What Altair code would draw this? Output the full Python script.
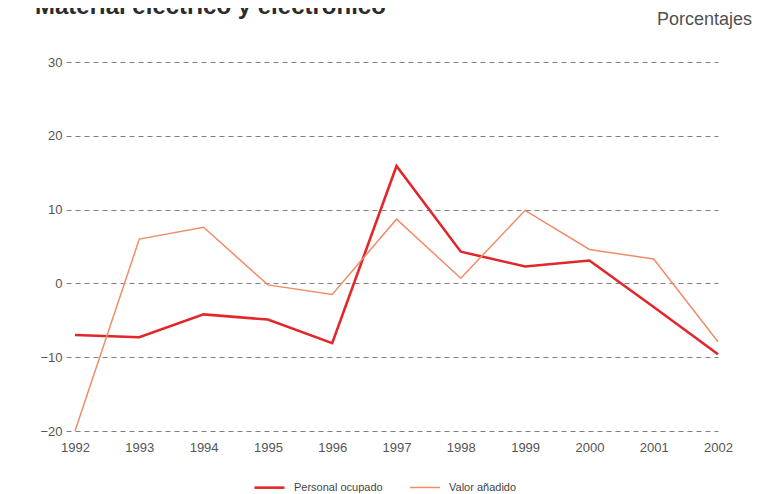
import altair as alt
import pandas as pd

years = [1992, 1993, 1994, 1995, 1996, 1997, 1998, 1999, 2000, 2001, 2002]
personal = [-7.0, -7.3, -4.2, -4.9, -8.1, 15.9, 4.3, 2.3, 3.1, -3.2, -9.6]
valor = [-20.0, 6.0, 7.6, -0.2, -1.5, 8.7, 0.7, 9.9, 4.6, 3.3, -7.9]
series_names = ["Personal ocupado", "Valor añadido"]
series_colors = ["#e2272b", "#f08c68"]
series_widths = [2.6, 1.5]
y_ticks = [-20, -10, 0, 10, 20, 30]
title_text = "Material eléctrico y electrónico"
unit_text = "Porcentajes"

rows = []
for y, p, v in zip(years, personal, valor):
    rows.append({"year": y, "serie": series_names[0], "valor": p})
    rows.append({"year": y, "serie": series_names[1], "valor": v})
df = pd.DataFrame(rows)

W, H = 652, 369

lines = alt.Chart(df).mark_line(strokeCap="butt", strokeJoin="miter").encode(
    x=alt.X("year:Q",
            scale=alt.Scale(domain=[1991.86, 2002], nice=False, zero=False),
            axis=alt.Axis(values=years, format="d", title=None, grid=False,
                          domain=False, ticks=False, labelPadding=10,
                          labelFlush=False, labelOverlap=False,
                          labelFont="Liberation Sans", labelFontSize=13,
                          labelColor="#555555")),
    y=alt.Y("valor:Q",
            scale=alt.Scale(domain=[-20, 30], nice=False),
            axis=alt.Axis(values=y_ticks, title=None, grid=True,
                          gridDash=[5, 4], gridColor="#808080", gridWidth=1,
                          domain=False, ticks=False, labelPadding=4,
                          labelFont="Liberation Sans", labelFontSize=13,
                          labelColor="#555555")),
    color=alt.Color("serie:N",
                    scale=alt.Scale(domain=series_names, range=series_colors),
                    legend=alt.Legend(title=None, orient="none", direction="horizontal",
                                      legendX=187, legendY=409,
                                      symbolType="stroke", symbolSize=900,
                                      symbolStrokeWidth=2, labelOffset=8,
                                      columnPadding=24,
                                      labelFont="Liberation Sans", labelFontSize=11,
                                      labelColor="#444444")),
    strokeWidth=alt.StrokeWidth("serie:N",
                                scale=alt.Scale(domain=series_names, range=series_widths),
                                legend=None),
)

title = alt.Chart(pd.DataFrame({"t": [title_text]})).mark_text(
    align="left", baseline="alphabetic", font="Liberation Sans",
    fontSize=24, fontWeight="bold", color="#2b2b2b"
).encode(x=alt.value(-31), y=alt.value(-48), text="t:N")

unit = alt.Chart(pd.DataFrame({"t": [unit_text]})).mark_text(
    align="right", baseline="alphabetic", font="Liberation Sans",
    fontSize=18, color="#505050"
).encode(x=alt.value(686), y=alt.value(-37), text="t:N")

chart = alt.layer(lines, title, unit).properties(
    width=W, height=H,
    autosize=alt.AutoSizeParams(type="none"),
    padding={"left": 58, "top": 54, "right": 50, "bottom": 62},
).configure(background="white").configure_view(stroke=None)

chart.save("out.html", embed_options={"renderer": "svg", "actions": False})
